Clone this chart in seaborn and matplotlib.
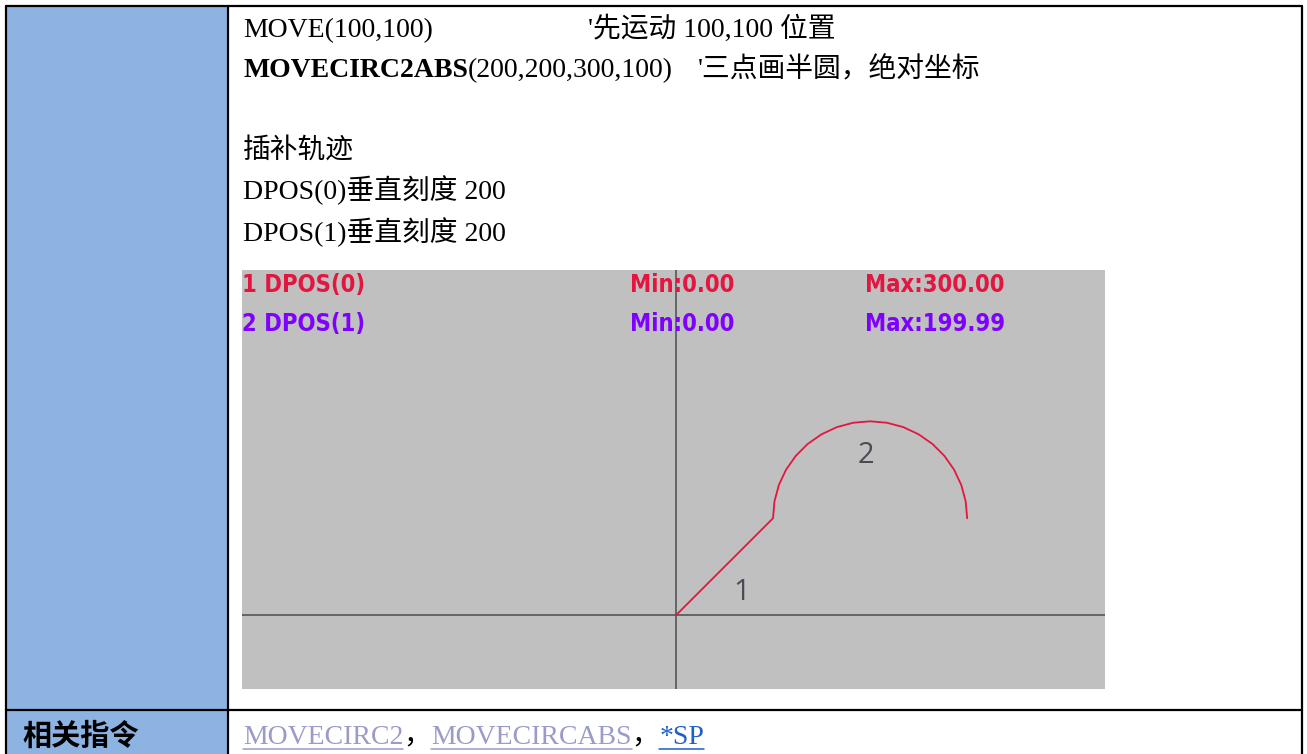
"""
Manual page snippet: MOVECIRC2ABS example with the DPOS(0)/DPOS(1) trajectory scope.
"""

import matplotlib
matplotlib.use('Agg')
import matplotlib.pyplot as plt
import seaborn as sns
import pandas as pd

# Trajectory (DPOS(0) horizontal, DPOS(1) vertical)
path_x = [0, 100, 101.5, 106.0, 113.4, 123.4, 135.7, 150.0, 165.8, 182.6, 200.0,
          217.4, 234.2, 250.0, 264.3, 276.6, 286.6, 294.0, 298.5, 300.0]
path_y = [0, 100, 117.4, 134.2, 150.0, 164.3, 176.6, 186.6, 194.0, 198.5, 200.0,
          198.5, 194.0, 186.6, 176.6, 164.3, 150.0, 134.2, 117.4, 100.0]
seg_labels = ['1', '2']
seg_label_x = [68, 196]
seg_label_y = [23, 165]

channels = ['1 DPOS(0)', '2 DPOS(1)']
ch_min = ['Min:0.00', 'Min:0.00']
ch_max = ['Max:300.00', 'Max:199.99']
ch_colors = ['#E3163F', '#8000FF']

code_lines = ['MOVE(100,100)', '(200,200,300,100)']
comment_lines = ["'先运动 100,100 位置", "'三点画半圆，绝对坐标"]
note_lines = ['插补轨迹', 'DPOS(0)垂直刻度 200', 'DPOS(1)垂直刻度 200']
related = ['MOVECIRC2', 'MOVECIRCABS', '*SP']
related_colors = ['#9A9ACB', '#9A9ACB', '#1F5FC8']

sns.set_theme(style='white')
plt.rcParams['font.family'] = ['Liberation Serif', 'Noto Sans CJK SC']

W, H = 1307, 754
fig = plt.figure(figsize=(W / 100, H / 100), dpi=100)

# page layer in pixel coordinates
ax0 = fig.add_axes([0, 0, 1, 1])
ax0.set_xlim(0, W)
ax0.set_ylim(H, 0)
ax0.axis('off')

ax0.add_patch(plt.Rectangle((6, 6), 222, H, color='#8DB3E2', lw=0, zorder=0))
lw = 1.6
ax0.plot([6, 1302], [6, 6], color='black', lw=lw)
ax0.plot([6, 1302], [710, 710], color='black', lw=lw)
for xv in [6, 228, 1302]:
    ax0.plot([xv, xv], [6, H], color='black', lw=lw)

fs = 20
renderer = fig.canvas.get_renderer()
inv = ax0.transData.inverted()


def put(x, y, s, **kw):
    t = ax0.text(x, y, s, fontsize=fs, va='baseline', ha='left', **kw)
    bb = t.get_window_extent(renderer=renderer)
    return t, inv.transform((bb.x1, bb.y0))[0]


put(243, 37, code_lines[0], color='black')
put(588, 37, comment_lines[0], color='black')
_, xe = put(243, 77, 'MOVECIRC2ABS', color='black', fontweight='bold')
put(xe, 77, code_lines[1], color='black')
put(698, 77, comment_lines[1], color='black')
for yb, s in zip([158, 199, 241], note_lines):
    put(243, yb, s, color='black')

ax0.text(22, 745, '相关指令', fontsize=21, va='baseline', ha='left',
         fontweight='bold', family=['Noto Sans CJK SC'], color='black')
x = 243
for i, (s, c) in enumerate(zip(related, related_colors)):
    _, xe = put(x, 744, s, color=c)
    ax0.plot([x, xe], [749, 749], color=c, lw=1.1)
    x = xe
    if i < len(related) - 1:
        _, x = put(x, 744, '，', color='black')

# scope chart
ax = fig.add_axes([242 / W, (H - 689) / H, (1105 - 242) / W, (689 - 270) / H])
ax.set_facecolor('#C0C0C0')
df = pd.DataFrame({'x': path_x, 'y': path_y})
sns.lineplot(data=df, x='x', y='y', sort=False, estimator=None,
             color='#E3163F', lw=1.3, ax=ax)
ax.axhline(0, color='#5E5E5E', lw=1.3, zorder=1)
ax.axvline(0, color='#5E5E5E', lw=1.3, zorder=1)
ax.set_xlim(-447, 442)
ax.set_ylim(-76, 356)
ax.set_xlabel('')
ax.set_ylabel('')
ax.set_xticks([])
ax.set_yticks([])
for sp in ax.spines.values():
    sp.set_visible(False)

for lx, ly, s in zip(seg_label_x, seg_label_y, seg_labels):
    ax.text(lx, ly, s, fontsize=21, color='#4B4B57', ha='center', va='center',
            family=['Open Sans'])

for i in range(len(channels)):
    yy = 0.964 - i * 0.093
    kw = dict(transform=ax.transAxes, va='center', ha='left', fontsize=17,
              color=ch_colors[i], family=['DejaVu Sans'], fontstretch='condensed',
              fontweight='bold')
    ax.text(0.0, yy, channels[i], **kw)
    ax.text(0.4496, yy, ch_min[i], **kw)
    ax.text(0.722, yy, ch_max[i], **kw)

fig.savefig('out.png', dpi=100)
